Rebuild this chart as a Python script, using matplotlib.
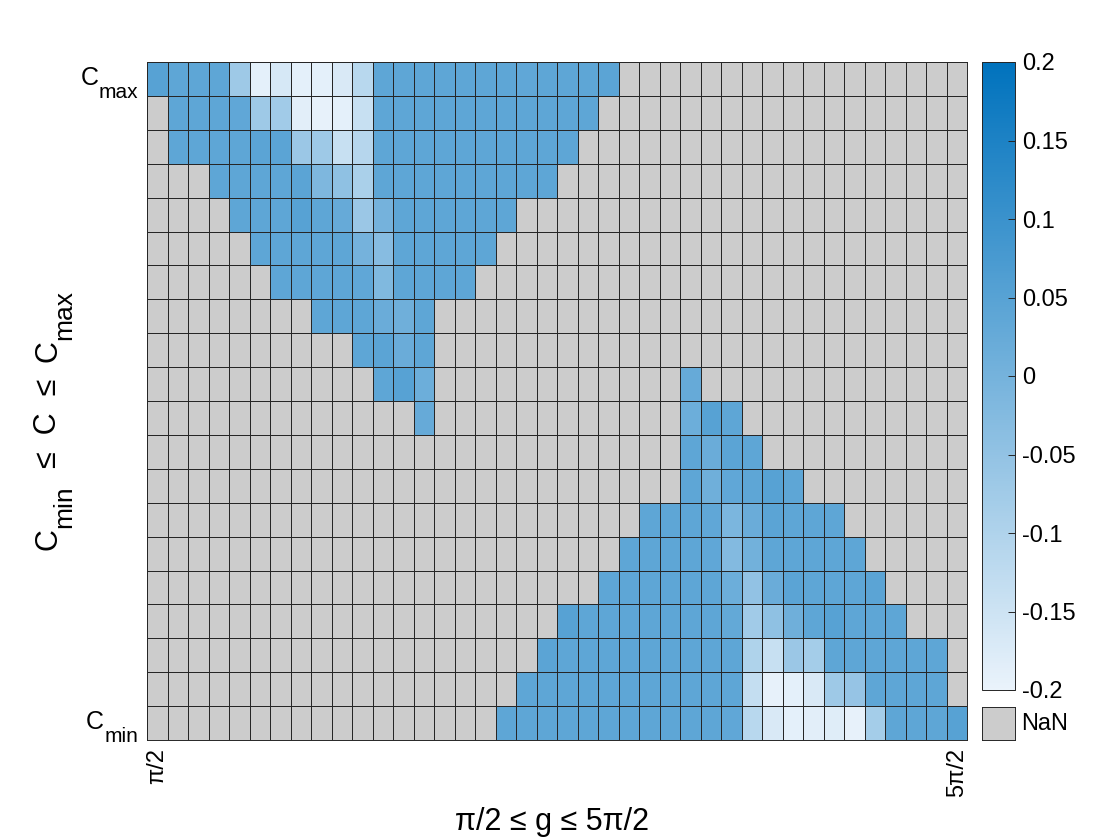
import matplotlib

matplotlib.use("Agg")
import matplotlib.pyplot as plt
import numpy as np
from matplotlib.colors import LinearSegmentedColormap
from matplotlib.transforms import Bbox, IdentityTransform

plt.rcParams["font.family"] = ["Liberation Sans", "DejaVu Sans"]
plt.rcParams["axes.unicode_minus"] = False

W, H = 1120, 840
n_rows, n_cols = 20, 40

# (row from top, first column, cell values); every other cell is NaN
segments = [
    (0, 0, [0.05, 0.04, 0.04, 0.04, -0.07, -0.19, -0.165, -0.19, -0.19, -0.17, -0.115,
            0.04, 0.04, 0.04, 0.04, 0.04, 0.04, 0.04, 0.035, 0.04, 0.04, 0.04, 0.045]),
    (1, 1, [0.04, 0.04, 0.04, 0.035, -0.07, -0.075, -0.185, -0.195, -0.19, -0.14,
            0.04, 0.04, 0.04, 0.04, 0.04, 0.04, 0.04, 0.04, 0.04, 0.04, 0.04]),
    (2, 1, [0.04, 0.04, 0.04, 0.04, 0.045, 0.045, -0.065, -0.07, -0.14, -0.11,
            0.04, 0.04, 0.04, 0.04, 0.04, 0.04, 0.04, 0.04, 0.04, 0.04]),
    (3, 3, [0.04, 0.04, 0.04, 0.04, 0.045, -0.015, -0.045, -0.09,
            0.04, 0.04, 0.04, 0.04, 0.04, 0.04, 0.04, 0.04, 0.04]),
    (4, 4, [0.04, 0.04, 0.04, 0.05, 0.04, 0.025, -0.065, 0.0,
            0.04, 0.04, 0.04, 0.04, 0.04, 0.04]),
    (5, 5, [0.04, 0.04, 0.04, 0.04, 0.04, 0.0, -0.03, 0.04, 0.04, 0.04, 0.04, 0.04]),
    (6, 6, [0.04, 0.04, 0.04, 0.04, 0.035, -0.02, 0.04, 0.04, 0.04, 0.04]),
    (7, 8, [0.04, 0.04, 0.04, 0.02, 0.01, 0.04]),
    (8, 10, [0.04, 0.045, 0.02, 0.04]),
    (9, 11, [0.04, 0.05, 0.015]),
    (9, 26, [0.025]),
    (10, 13, [0.025]),
    (10, 26, [0.015, 0.05, 0.04]),
    (11, 26, [0.04, 0.02, 0.045, 0.04]),
    (12, 26, [0.04, 0.01, 0.035, 0.04, 0.05, 0.04]),
    (13, 24, [0.04, 0.04, 0.04, 0.035, -0.01, 0.02, 0.045, 0.04, 0.04, 0.04]),
    (14, 23, [0.04, 0.04, 0.04, 0.04, 0.035, -0.025, 0.005, 0.04, 0.04, 0.04, 0.04, 0.04]),
    (15, 22, [0.04, 0.04, 0.04, 0.04, 0.04, 0.04, 0.015, -0.05, 0.02,
              0.045, 0.04, 0.04, 0.04, 0.045]),
    (16, 20, [0.05, 0.04, 0.04, 0.04, 0.04, 0.04, 0.04, 0.04, 0.03, -0.075, -0.045, 0.01,
              0.04, 0.05, 0.04, 0.04, 0.04]),
    (17, 19, [0.045, 0.04, 0.04, 0.04, 0.04, 0.04, 0.04, 0.04, 0.04, 0.04,
              -0.1, -0.14, -0.065, -0.08, 0.04, 0.04, 0.04, 0.04, 0.04, 0.04]),
    (18, 18, [0.04, 0.04, 0.04, 0.04, 0.04, 0.04, 0.04, 0.04, 0.04, 0.04, 0.04,
              -0.135, -0.195, -0.19, -0.17, -0.07, -0.055, 0.04, 0.04, 0.04, 0.04]),
    (19, 17, [0.04, 0.04, 0.04, 0.04, 0.04, 0.04, 0.04, 0.04, 0.04, 0.04, 0.04, 0.035,
              -0.115, -0.17, -0.19, -0.185, -0.18, -0.195, -0.08, 0.04, 0.04, 0.04, 0.05]),
]

# label pieces as (text, is_subscript), TeX-style
y_tick_labels = [[("C", False), ("max", True)], [("C", False), ("min", True)]]
y_label = [("C", False), ("min", True), ("  ≤  C  ≤  ", False), ("C", False), ("max", True)]
x_tick_labels = ["π/2", "5π/2"]
x_label = "π/2 ≤ g ≤ 5π/2"
cbar_ticks = [-0.2, -0.15, -0.1, -0.05, 0, 0.05, 0.1, 0.15, 0.2]
cbar_labels = ["-0.2", "-0.15", "-0.1", "-0.05", "0", "0.05", "0.1", "0.15", "0.2"]

grid = np.full((n_rows, n_cols), np.nan)
for row, start, vals in segments:
    grid[row, start:start + len(vals)] = vals

cmap = LinearSegmentedColormap.from_list("heat_blue", ["#eaf3fb", "#0072bd"])
cmap.set_bad("#cccccc")

fig = plt.figure(figsize=(W / 100, H / 100), dpi=100)
renderer = fig.canvas.get_renderer()


def sub_text(pieces, x, y, size, sub_size, vertical=False, align="left"):
    """TeX-like text with subscripts; (x, y) in pixels from top-left.

    Horizontal: x is the right/left end, y the baseline of the main text.
    Vertical: x is the baseline, y the centre of the whole label.
    """
    drop = 0.5 * size * 100 / 72
    texts, total = [], 0.0
    for s, sub in pieces:
        t = fig.text(0, 0, s, fontsize=sub_size if sub else size,
                     transform=IdentityTransform(),
                     rotation=90 if vertical else 0, rotation_mode="anchor",
                     ha="left", va="baseline")
        bb = t.get_window_extent(renderer)
        texts.append((t, sub, total))
        total += bb.height if vertical else bb.width
    start = {"left": 0.0, "center": -total / 2, "right": -total}[align]
    for t, sub, offs in texts:
        shift = drop if sub else 0.0
        if vertical:
            t.set_position((x + shift, H - y + start + offs))
        else:
            t.set_position((x + start + offs, H - y - shift))
    if vertical:
        box = Bbox.union([t.get_window_extent(renderer) for t, _, _ in texts])
        dy = (H - y) - (box.y0 + box.y1) / 2
        for t, _, _ in texts:
            px, py = t.get_position()
            t.set_position((px, py + dy))


ax = fig.add_axes([147 / W, 100 / H, 820 / W, 678 / H])
mesh = ax.pcolormesh(
    np.arange(n_cols + 1),
    np.arange(n_rows + 1),
    np.ma.masked_invalid(grid),
    cmap=cmap,
    vmin=-0.2,
    vmax=0.2,
    edgecolors="#262626",
    linewidth=0.55,
)
ax.set_xlim(0, n_cols)
ax.set_ylim(n_rows, 0)
ax.set_xticks([0.5, n_cols - 0.5])
ax.set_xticklabels(x_tick_labels, rotation=90, fontsize=17)
ax.set_yticks([])
ax.tick_params(length=0, pad=6)
for sp in ax.spines.values():
    sp.set_color("#262626")
    sp.set_linewidth(0.7)

# row centres in pixels: top row at 79, bottom row at 723
sub_text(y_tick_labels[0], 138, 79 + 6, 18, 15, align="right")
sub_text(y_tick_labels[1], 138, 723 + 6, 18, 15, align="right")

fig.text(552 / W, 1 - 822 / H, x_label, ha="center", va="center", fontsize=22)
sub_text(y_label, 56, 420, 22, 19, vertical=True, align="center")

cax = fig.add_axes([982 / W, 1 - 690 / H, 33 / W, 628 / H])
cb = fig.colorbar(mesh, cax=cax, ticks=cbar_ticks)
cb.ax.set_yticklabels(cbar_labels, fontsize=17)
cb.ax.tick_params(direction="in", length=5, width=0.7, color="#262626", pad=5)
cb.outline.set_edgecolor("#262626")
cb.outline.set_linewidth(0.7)

nax = fig.add_axes([982 / W, 1 - 740 / H, 33 / W, 33 / H])
nax.set_facecolor("#cccccc")
nax.set_xticks([])
nax.set_yticks([])
for sp in nax.spines.values():
    sp.set_color("#262626")
    sp.set_linewidth(0.7)
nax.text(1.2, 0.5, "NaN", transform=nax.transAxes, va="center", fontsize=17)

fig.savefig("out.png", dpi=100)
